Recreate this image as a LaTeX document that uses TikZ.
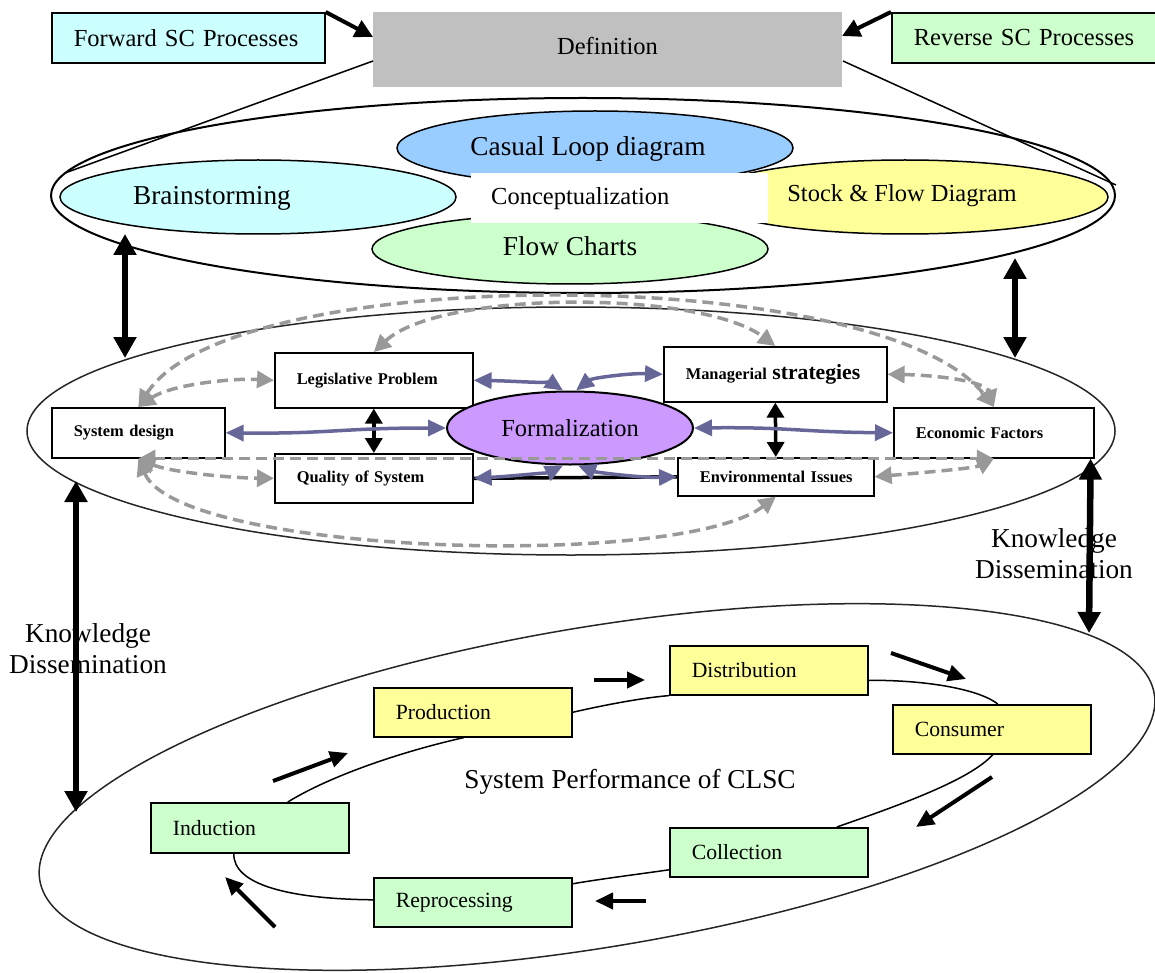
\documentclass[tikz,border=0pt]{standalone}
\usepackage{fontspec}
\setmainfont{Liberation Serif}
\usetikzlibrary{arrows.meta,shapes.geometric}
\definecolor{cyanf}{HTML}{CCFFFF}
\definecolor{greenf}{HTML}{CCFFCC}
\definecolor{yellowf}{HTML}{FFFF99}
\definecolor{bluef}{HTML}{99CCFF}
\definecolor{purplef}{HTML}{CC99FF}
\definecolor{grayf}{HTML}{C0C0C0}
\definecolor{arrpurple}{HTML}{666699}
\definecolor{dashgray}{HTML}{999999}
\newcommand{\myfsA}{\fontsize{24.5pt}{28pt}\selectfont}
\newcommand{\myfsB}{\fontsize{27.3pt}{31pt}\selectfont}
\newcommand{\myfsC}{\fontsize{21.7pt}{25pt}\selectfont}
\newcommand{\myfsD}{\fontsize{16.4pt}{19pt}\selectfont\bfseries}
\begin{document}
\begin{tikzpicture}[x=1pt,y=-1pt,
  bx/.style={draw=black, line width=1.6pt, rectangle, inner xsep=22pt, inner ysep=0pt, align=left, anchor=north west},
  topbox/.style={bx, font=\myfsA, minimum height=50pt},
  midbox/.style={bx, fill=white, font=\myfsD},
  lowbox/.style={bx, font=\myfsC, minimum height=49pt, text width=154pt},
  ell/.style={ellipse, draw=black, line width=1.5pt, inner sep=0pt},
  bigdbl/.style={line width=6.5pt, {Triangle[length=21pt,width=22pt]}-{Triangle[length=21pt,width=22pt]}},
  fwdarr/.style={line width=4pt, -{Triangle[length=18pt,width=18pt]}},
  blkdbl/.style={line width=3.5pt, {Triangle[length=15pt,width=17pt]}-{Triangle[length=15pt,width=17pt]}},
  purp/.style={draw=arrpurple, line width=3.5pt, {Triangle[length=18pt,width=16pt]}-{Triangle[length=18pt,width=16pt]}},
  gdash/.style={draw=dashgray, line width=3.5pt, dash pattern=on 11pt off 6pt, {Triangle[length=17pt,width=17pt]}-{Triangle[length=17pt,width=17pt]}},
  dirarr/.style={line width=4pt, -{Triangle[length=18pt,width=16pt]}},
  loopline/.style={draw=black, line width=1.5pt},
  thinline/.style={draw=black, line width=1.5pt}
]
\useasboundingbox (0,0) rectangle (1155,973);

% ---------- top ----------
\node[topbox, fill=cyanf, text width=229pt] (fwd) at (51,12) {\mbox{Forward SC Processes}};
\node[topbox, fill=greenf, text width=230pt] (rev) at (891,12) {\mbox{Reverse SC Processes}};
\node[fill=grayf, minimum width=469pt, minimum height=75pt, inner sep=0pt, anchor=north west] (def) at (373,12) {};
\node[font=\myfsA] (deft) at (607.5,46) {Definition};
\coordinate (defL) at (373,37);
\coordinate (defR) at (842,36);
\draw[fwdarr] (fwd.north east) -- (defL);
\draw[fwdarr] (rev.north west) -- (defR);

% ---------- conceptualization ----------
\node[ell, line width=2pt, minimum width=1064pt, minimum height=195pt] (concell) at (583,195.5) {};
\coordinate (defLL) at (373,61);
\coordinate (defRR) at (843,61);
\coordinate (tanL) at (65,173);
\coordinate (tanR) at (1116,185);
\draw[thinline] (defLL) -- (tanL);
\draw[thinline] (defRR) -- (tanR);
\node[ell, fill=bluef, minimum width=396pt, minimum height=74pt] (casual) at (595,148) {};
\node[ell, fill=cyanf, minimum width=396pt, minimum height=74pt] (brain) at (258,197) {};
\node[ell, fill=greenf, minimum width=396pt, minimum height=70pt] (flow) at (570,249) {};
\node[ell, fill=yellowf, minimum width=406pt, minimum height=74pt] (stock) at (905,197) {};
\node[fill=white, inner xsep=20pt, inner ysep=0pt, text width=257pt, minimum height=50pt, anchor=north west, align=left, font=\myfsA] (conc) at (471,173) {\mbox{Conceptualization}};
\node[font=\myfsB] (casualt) at (588,149) {Casual Loop diagram};
\node[font=\myfsB] (braint) at (212,198) {Brainstorming};
\node[font=\myfsB] (flowt) at (570,246) {Flow Charts};
\node[font=\myfsA] (stockt) at (902,196) {Stock \& Flow Diagram};

% ---------- formalization ----------
\node[ell, draw=black!85, line width=1.5pt, minimum width=1088pt, minimum height=248pt] (formell) at (571,431) {};
\coordinate (cL1) at (125,234);
\coordinate (cL2) at (125,358);
\coordinate (cR1) at (1015,258);
\coordinate (cR2) at (1015,358);
\draw[bigdbl] (cL1) -- (cL2);
\draw[bigdbl] (cR1) -- (cR2);

\node[midbox, text width=129pt, minimum height=50pt] (sys) at (51,407) {\mbox{System design}};
\node[midbox, text width=154pt, minimum height=55pt] (leg) at (274,352) {\mbox{Legislative Problem}};
\node[midbox, text width=154pt, minimum height=49pt] (qual) at (274,453) {\mbox{Quality of System}};
\node[midbox, text width=179pt, minimum height=55pt] (man) at (663,346) {\mbox{Managerial {\fontsize{21.7pt}{25pt}\selectfont strategies}}};
\node[midbox, text width=156pt, minimum height=50pt] (eco) at (893,407) {\mbox{Economic Factors}};
\node[midbox, text width=152pt, minimum height=38pt] (env) at (677,457) {\mbox{Environmental Issues}};
\node[ell, line width=2pt, fill=purplef, minimum width=246pt, minimum height=73pt, font=\myfsA] (form) at (570,428) {Formalization};

% black links
\draw[line width=3.5pt] (qual.east) -- (env.west);
\draw[blkdbl] (leg.south) -- (qual.north);
\draw[blkdbl] (man.south) -- (env.north);

% purple arrows
\draw[purp] (sys.east) .. controls (330,434) and (340,428) .. (form.west);
\draw[purp] (form.east) .. controls (790,427) and (800,432) .. (eco.west);
\draw[purp] (leg.east) .. controls (515,381) and (553,384) .. ([xshift=-7pt]form.north);
\draw[purp] (man.west) .. controls (630,373) and (592,378) .. ([xshift=6pt]form.north);
\draw[purp] (qual.east) .. controls (515,476) and (550,472) .. ([xshift=-7pt]form.south);
\draw[purp] (env.west) .. controls (640,478) and (595,472) .. ([xshift=8pt]form.south);

% gray dashed arrows
\draw[gdash] (sys.north) .. controls (230,262) and (880,262) .. (eco.north);
\draw[gdash] (leg.north) .. controls (440,290) and (700,290) .. (man.north);
\draw[gdash] (sys.south) .. controls (180,555) and (680,570) .. (env.south);
\draw[gdash] (sys.south) -- (eco.south);
\draw[gdash] (sys.north) .. controls (170,385) and (230,378) .. (leg.west);
\draw[gdash] (sys.south) .. controls (170,472) and (230,478) .. (qual.west);
\draw[gdash] (man.east) .. controls (930,375) and (985,380) .. (eco.north);
\draw[gdash] (env.east) .. controls (930,472) and (975,468) .. (eco.south);

% ---------- system performance ----------
\node[ellipse, draw=black!85, line width=1.5pt, inner sep=0pt, minimum width=1130pt, minimum height=320pt, rotate=9.5] (perf) at (597,787) {};
\node[font=\myfsB] (perft) at (630,782) {System Performance of CLSC};

\node[lowbox, fill=yellowf] (prod) at (373,687) {\mbox{Production}};
\node[lowbox, fill=greenf, minimum height=50pt] (ind) at (150,802) {\mbox{Induction}};
\node[lowbox, fill=greenf] (rep) at (373,877) {\mbox{Reprocessing}};
\node[lowbox, fill=yellowf] (dist) at (669,645) {\mbox{Distribution}};
\node[lowbox, fill=yellowf] (cons) at (892,704) {\mbox{Consumer}};
\node[lowbox, fill=greenf] (coll) at (669,827) {\mbox{Collection}};

\draw[loopline] ([xshift=38pt]ind.north) .. controls (330,776) and (400,752) .. ([xshift=-9pt]prod.south);
\draw[loopline] (prod.east) .. controls (600,706) and (640,698) .. (dist.south west);
\draw[loopline] ([yshift=-10pt]dist.east) .. controls (930,680) and (980,690) .. ([xshift=6pt]cons.north);
\draw[loopline] ([xshift=1pt]cons.south) .. controls (970,780) and (900,805) .. ([xshift=68pt]coll.north);
\draw[loopline] ([yshift=-17.5pt]coll.west) .. controls (640,874) and (600,879) .. ([yshift=18.5pt]rep.east);
\draw[loopline] ([yshift=2.5pt]rep.west) .. controls (290,899) and (233,885) .. ([xshift=-16pt]ind.south);

\coordinate (a1s) at (273,781); \coordinate (a1e) at (348,753);
\coordinate (a2s) at (594,680); \coordinate (a2e) at (645,680);
\coordinate (a3s) at (891,653); \coordinate (a3e) at (966,679);
\coordinate (a4s) at (992,777); \coordinate (a4e) at (916,827);
\coordinate (a5s) at (646,901); \coordinate (a5e) at (595,901);
\coordinate (a6s) at (275,927); \coordinate (a6e) at (225,877);
\draw[dirarr] (a1s) -- (a1e);
\draw[dirarr] (a2s) -- (a2e);
\draw[dirarr] (a3s) -- (a3e);
\draw[dirarr] (a4s) -- (a4e);
\draw[dirarr] (a5s) -- (a5e);
\draw[dirarr] (a6s) -- (a6e);

% knowledge dissemination
\node[font=\myfsB, align=center] (kdl) at (88,649) {Knowledge\\Dissemination};
\node[font=\myfsB, align=center] (kdr) at (1054,554) {Knowledge\\Dissemination};
\coordinate (kl1) at (76,481);
\coordinate (kl2) at (76,812);
\coordinate (kr2) at (1089,633);
\draw[bigdbl] (kl1) -- (kl2);
\draw[bigdbl] ([xshift=-4pt]eco.south east) -- (kr2);
\end{tikzpicture}
\end{document}
